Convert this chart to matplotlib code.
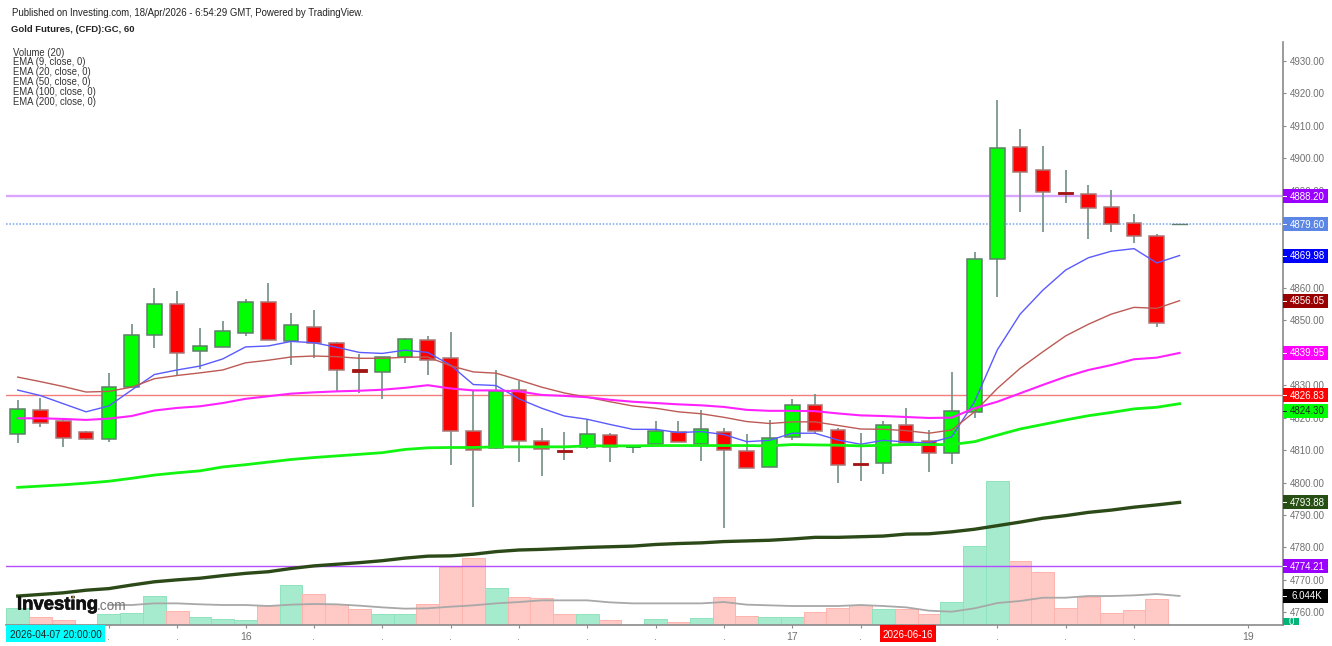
#!/usr/bin/env python
"""Gold futures 60 min candles with EMAs and volume, Investing.com style."""
import matplotlib
matplotlib.use("Agg")
import matplotlib.pyplot as plt
import matplotlib.patheffects as pe
from matplotlib.patches import Rectangle
from matplotlib.transforms import blended_transform_factory

plt.rcParams["font.family"] = ["Liberation Sans", "DejaVu Sans"]

W, H = 1332, 646

# candles: open, high, low, close
opens = [4815.0, 4822.5, 4818.9, 4815.6, 4813.4, 4829.3, 4845.4, 4855.0, 4840.6, 4841.8,
         4846.2, 4855.8, 4843.7, 4848.0, 4842.9, 4834.9, 4834.0, 4838.8, 4844.0, 4838.3,
         4815.8, 4810.5, 4828.5, 4812.7, 4810.0, 4810.9, 4814.7, 4811.0, 4811.8, 4815.5,
         4811.9, 4815.5, 4809.7, 4804.7, 4813.9, 4823.8, 4816.1, 4806.1, 4806.0, 4817.6,
         4812.7, 4809.1, 4821.6, 4868.9, 4903.4, 4896.2, 4889.6, 4888.9, 4884.8, 4880.1,
         4876.0, 4879.6]
closes = [4822.7, 4818.2, 4813.8, 4813.4, 4829.4, 4845.5, 4855.0, 4839.8, 4842.2, 4846.6,
          4855.8, 4844.0, 4848.5, 4842.9, 4834.6, 4834.2, 4838.8, 4844.1, 4837.9, 4816.0,
          4810.1, 4828.3, 4812.7, 4810.2, 4809.5, 4814.9, 4810.9, 4811.3, 4816.0, 4812.4,
          4816.4, 4810.1, 4804.6, 4813.8, 4824.0, 4816.0, 4805.5, 4805.4, 4817.6, 4812.1,
          4809.1, 4822.2, 4869.0, 4903.1, 4895.8, 4889.7, 4888.8, 4884.7, 4879.8, 4875.9,
          4849.3, 4879.8]
highs = [4825.4, 4826.2, 4819.6, 4815.9, 4833.9, 4848.9, 4860.1, 4859.0, 4847.5, 4849.8,
         4856.5, 4861.4, 4852.2, 4853.1, 4843.4, 4839.6, 4838.8, 4844.4, 4845.3, 4846.3,
         4828.5, 4834.7, 4831.4, 4816.7, 4815.7, 4819.7, 4815.4, 4811.4, 4819.0, 4819.0,
         4822.4, 4816.7, 4815.0, 4819.2, 4825.9, 4827.3, 4816.7, 4815.4, 4819.0, 4822.9,
         4816.1, 4834.2, 4871.1, 4917.9, 4909.0, 4903.7, 4896.3, 4891.8, 4890.2, 4882.7,
         4876.6, 4879.8]
lows = [4812.3, 4817.2, 4810.8, 4813.1, 4812.5, 4829.3, 4841.5, 4833.2, 4834.9, 4841.8,
        4845.2, 4844.0, 4836.2, 4838.4, 4827.9, 4827.7, 4825.9, 4837.0, 4833.0, 4805.4,
        4792.4, 4810.2, 4806.2, 4802.1, 4806.8, 4810.4, 4806.2, 4809.2, 4811.5, 4812.4,
        4806.7, 4785.9, 4804.6, 4804.7, 4813.1, 4815.2, 4800.0, 4800.4, 4802.6, 4812.1,
        4803.2, 4805.6, 4820.0, 4857.3, 4883.5, 4877.3, 4886.3, 4875.2, 4877.2, 4873.8,
        4848.0, 4879.6]

# volume in thousands, colour follows the candle
volume = [3.47, 1.6, 1.04, 0.0, 2.36, 2.5, 6.1, 2.9, 1.6, 1.25, 1.04, 4.09, 8.25, 6.45, 4.3,
          3.33, 2.2, 2.2, 4.44, 12.07, 13.9, 7.77, 5.75, 5.55, 2.2, 2.2, 1.04, 0.0, 1.25, 0.69,
          1.46, 5.75, 1.87, 1.6, 1.6, 2.7, 3.54, 4.09, 3.33, 3.26, 2.36, 4.78, 16.4, 30.0,
          13.25, 10.95, 3.54, 5.75, 2.5, 3.12, 5.41]
volume_ma = [4.16, 4.16, 4.5, 4.5, 4.3, 4.16, 4.16, 3.95, 4.23, 4.37, 4.3, 4.02, 3.67, 3.4,
             3.47, 3.81, 4.09, 4.5, 4.78, 5.13, 5.13, 5.13, 4.71, 4.5, 4.5, 4.5, 4.5, 4.78,
             4.23, 4.09, 3.95, 3.95, 3.95, 4.16, 3.95, 3.67, 2.98, 2.77, 3.47, 4.57, 4.99,
             5.68, 5.68, 6.03, 6.03, 6.17, 6.44, 6.044]
volume_ma_start = 4

ema9 = [4828.5, 4826.8, 4824.3, 4821.8, 4823.6, 4828.5, 4833.3, 4834.7, 4835.9, 4838.1,
        4841.8, 4842.1, 4843.5, 4843.1, 4841.7, 4840.1, 4839.8, 4840.8, 4840.1, 4836.2,
        4830.2, 4829.9, 4825.8, 4822.9, 4820.5, 4819.5, 4817.9, 4816.4, 4816.4, 4815.4,
        4815.7, 4814.8, 4812.6, 4813.0, 4815.2, 4815.2, 4813.1, 4811.8, 4813.0, 4812.5,
        4812.2, 4814.1, 4824.9, 4840.9, 4851.9, 4859.3, 4865.5, 4869.3, 4871.3, 4872.1,
        4867.7, 4869.98]
ema20 = [4832.5, 4831.1, 4829.6, 4827.9, 4828.1, 4829.4, 4832.0, 4833.0, 4833.8, 4834.7,
         4836.9, 4837.7, 4838.7, 4839.0, 4838.8, 4838.3, 4838.3, 4838.6, 4838.7, 4836.0,
         4834.1, 4833.7, 4831.6, 4829.4, 4827.6, 4826.3, 4824.9, 4823.6, 4822.9, 4821.8,
         4821.2, 4820.1, 4818.8, 4818.2, 4818.7, 4818.7, 4817.6, 4816.5, 4816.4, 4816.0,
         4815.2, 4816.2, 4821.8, 4829.0, 4835.2, 4840.3, 4845.2, 4848.8, 4851.9, 4854.0,
         4853.7, 4856.05]
ema50 = [4819.8, 4819.8, 4819.6, 4819.3, 4819.7, 4820.5, 4822.2, 4823.0, 4823.5, 4824.5,
         4825.8, 4826.6, 4827.4, 4827.8, 4828.1, 4828.3, 4828.6, 4829.2, 4830.0, 4829.0,
         4828.4, 4828.4, 4828.1, 4827.0, 4826.7, 4826.3, 4825.5, 4824.9, 4824.5, 4824.1,
         4823.8, 4823.3, 4822.4, 4822.1, 4822.1, 4822.0, 4821.3, 4820.7, 4820.5, 4820.2,
         4819.9, 4820.0, 4822.9, 4824.9, 4827.5, 4830.1, 4832.6, 4834.7, 4836.2, 4838.0,
         4838.5, 4839.95]
ema100 = [4798.5, 4798.9, 4799.3, 4799.8, 4800.4, 4801.3, 4802.3, 4803.0, 4803.6, 4804.8,
          4805.5, 4806.3, 4807.1, 4807.7, 4808.2, 4808.7, 4809.2, 4810.2, 4810.7, 4810.8,
          4810.8, 4811.0, 4811.0, 4811.0, 4811.0, 4811.3, 4811.3, 4811.3, 4811.4, 4811.4,
          4811.4, 4811.4, 4811.4, 4811.3, 4811.7, 4811.6, 4811.5, 4811.3, 4811.5, 4811.7,
          4811.7, 4811.7, 4812.6, 4814.6, 4816.5, 4817.9, 4819.3, 4820.6, 4821.6, 4822.7,
          4823.2, 4824.3]
ema200 = [4765.0, 4765.5, 4766.0, 4766.8, 4767.3, 4768.4, 4769.4, 4770.0, 4770.5, 4771.3,
          4772.0, 4772.5, 4773.5, 4774.3, 4774.8, 4775.3, 4775.9, 4776.7, 4777.3, 4777.4,
          4777.9, 4778.7, 4779.2, 4779.4, 4779.7, 4780.0, 4780.2, 4780.4, 4780.9, 4781.2,
          4781.4, 4781.8, 4782.0, 4782.2, 4782.6, 4783.1, 4783.1, 4783.3, 4783.5, 4784.1,
          4784.2, 4784.8, 4785.6, 4786.7, 4787.8, 4789.0, 4789.8, 4790.8, 4791.5, 4792.4,
          4793.1, 4793.88]

price_ticks = [4760, 4770, 4780, 4790, 4800, 4810, 4820, 4830, 4840, 4850, 4860, 4870, 4880,
               4890, 4900, 4910, 4920, 4930]
time_ticks = [4, 7, 10, 13, 16, 19, 22, 25, 28, 31, 34, 37, 39, 43, 46, 49, 54]
day_labels = {10: "16", 34: "17", 39: "", 54: "19"}
indicators = ["Volume (20)", "EMA (9, close, 0)", "EMA (20, close, 0)", "EMA (50, close, 0)",
              "EMA (100, close, 0)", "EMA (200, close, 0)"]

# scale position, text, fill, text colour (4824.30 is pushed down by the label above it)
price_labels = [(4888.20, "4888.20", "#9900ff", "white"), (4879.60, "4879.60", "#5b86e6", "white"),
                (4869.98, "4869.98", "#0000ff", "white"), (4856.05, "4856.05", "#990000", "white"),
                (4839.95, "4839.95", "#ff00ff", "white"), (4826.83, "4826.83", "#ff0000", "white"),
                (4822.05, "4824.30", "#00ff00", "#222222"), (4793.88, "4793.88", "#274e13", "white"),
                (4774.21, "4774.21", "#9900ff", "white"), (4765.10, "6.044K", "#000000", "white")]

GREEN, RED = "#00ff00", "#ff0000"

fig = plt.figure(figsize=(W / 100, H / 100), dpi=100)
rect = [6 / W, 1 - 625 / H, (1283 - 6) / W, (625 - 42) / H]
ax_vol = fig.add_axes(rect)
ax = fig.add_axes(rect)
ax.patch.set_visible(False)

xlim = (-0.514, 55.54)
ax.set_xlim(xlim)
ax.set_ylim(4756.08, 4935.8)
ax_vol.set_xlim(xlim)
ax_vol.set_ylim(0, 121.3)
ax_vol.axis("off")

xs = list(range(len(opens)))

# volume
for i, v in enumerate(volume):
    up = closes[i] >= opens[i]
    ax_vol.bar(i, v, width=1.0, fc="#a6ebce" if up else "#ffc9c5",
               ec="#8fe3bd" if up else "#ffb3ad", lw=0.7)
ax_vol.plot(xs[volume_ma_start:], volume_ma, color="#a8a8a8", lw=1.3)

# horizontal levels
ax.axhline(4888.20, color="#d9a6ff", lw=1.7, zorder=1)
ax.axhline(4879.60, color="#8fb0ee", lw=1.2, ls=(0, (1, 1)), zorder=1)
ax.axhline(4826.83, color="#f47c7c", lw=1.0, zorder=1)
ax.axhline(4774.21, color="#b44cff", lw=1.0, zorder=1)

# candles
ax.vlines(xs, lows, highs, color="#6f9080", lw=1.2, zorder=3)
for i in xs:
    up = closes[i] >= opens[i]
    bottom, top = sorted((opens[i], closes[i]))
    thin = top - bottom < 1.0
    if i == len(opens) - 1:
        ax.plot([i - 0.32, i + 0.32], [closes[i]] * 2, color="#5f7f70", lw=1.0, zorder=4)
        continue
    if thin:
        ax.bar(i, top - bottom, bottom=bottom, width=0.64, fc="#a31515" if not up else "#1a8a3a",
               ec="#a31515" if not up else "#1a8a3a", lw=0.6, zorder=4)
    else:
        ax.bar(i, top - bottom, bottom=bottom, width=0.64, fc=GREEN if up else RED,
               ec="#5d7f68" if up else "#a87878", lw=1.1, zorder=4)

# EMAs
ax.plot(xs, ema9, color="#5a5aff", lw=1.0, zorder=5)
ax.plot(xs, ema20, color="#bc5a55", lw=1.0, zorder=5)
ax.plot(xs, ema50, color="#ff22ff", lw=1.5, zorder=5)
ax.plot(xs, ema100, color="#11f511", lw=2.0, zorder=5)
ax.plot(xs, ema200, color="#2c4a18", lw=2.4, zorder=5)

# axes
for s in ("top", "left"):
    ax.spines[s].set_visible(False)
ax.spines["right"].set_color("#8a8a8a")
ax.spines["bottom"].set_color("#8a8a8a")
ax.spines["right"].set_linewidth(1.2)
ax.spines["bottom"].set_linewidth(1.2)
ax.yaxis.tick_right()
ax.set_yticks(price_ticks)
ax.set_yticklabels([f"{t:.2f}" for t in price_ticks], fontsize=7.0, color="#707070")
ax.tick_params(axis="y", length=2.2, width=0.8, color="#8a8a8a", pad=2.5)
ax.set_xticks(time_ticks)
ax.set_xticklabels([day_labels.get(t, ".") for t in time_ticks], fontsize=7.5, color="#707070")
ax.tick_params(axis="x", length=2.2, width=0.8, color="#8a8a8a", pad=3)

# price labels on the right scale
tr = blended_transform_factory(ax.transAxes, ax.transData)
px = 1 / (1283 - 6)
lab_h = 14.0 / 3.244
for val, txt, fill, tc in price_labels:
    ax.add_patch(Rectangle((1.0, val - lab_h / 2), 45 * px, lab_h, transform=tr, fc=fill, ec="none",
                           clip_on=False, zorder=6))
    ax.plot([1.0, 1.0 + 3 * px], [val, val], transform=tr, color=tc, lw=0.7, clip_on=False, zorder=7)
    ax.text(1.0 + 24 * px, val - 0.1, txt, transform=tr, ha="center", va="center",
            fontsize=7.0, color=tc, zorder=7, clip_on=False)

# zero volume label, cut by the chart bottom
zero_box = Rectangle((1283, H - 625), 16, 7, transform=None, fc="#00b377", ec="none",
                     clip_on=False, zorder=6)
fig.add_artist(zero_box)
zero = fig.text(1291 / W, 1 - 622 / H, "0", ha="center", va="center", fontsize=7.0, color="white",
                zorder=7)
zero.set_clip_path(zero_box)

# time labels on the bottom scale
for x0, x1, fill, tc, txt in [(6, 105, "#00ffff", "#222222", "2026-04-07 20:00:00"),
                              (880, 936, "#ff0000", "white", "2026-06-16")]:
    fig.add_artist(Rectangle((x0 / W, 1 - 642 / H), (x1 - x0) / W, 17 / H, transform=fig.transFigure,
                             fc=fill, ec="none", zorder=6))
    fig.text((x0 + x1) / 2 / W, 1 - 635 / H, txt, ha="center", va="center", fontsize=7.1, color=tc,
             zorder=7)

# headers
fig.text(12 / W, 1 - 13 / H, "Published on Investing.com, 18/Apr/2026 - 6:54:29 GMT, Powered by TradingView.",
         fontsize=6.9, color="#222222", va="center")
fig.text(11 / W, 1 - 29 / H, "Gold Futures, (CFD):GC, 60", fontsize=6.8, fontweight="bold",
         color="#222222", va="center")
for i, t in enumerate(indicators):
    fig.text(13 / W, 1 - (52.5 + 9.85 * i) / H, t, fontsize=6.87, color="#333333", va="center")

# logo
logo = fig.text(17 / W, 1 - 605 / H, "Investing", fontsize=13.3, fontweight="bold", color="#111111",
                va="center", zorder=8)
logo.set_path_effects([pe.withStroke(linewidth=0.5, foreground="#111111")])
fig.text(97 / W, 1 - 606.5 / H, ".com", fontsize=9.8, color="#777777", va="center", zorder=8)
fig.text(72.7 / W, 1 - 597 / H, "\u2022", fontsize=5, color="#f39c12", ha="center", va="center", zorder=9)

fig.savefig("out.png", dpi=100)
